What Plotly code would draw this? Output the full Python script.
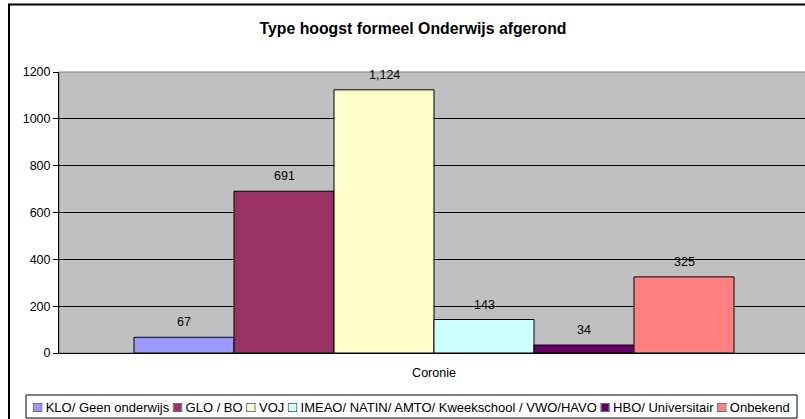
import plotly.graph_objects as go

categories = ["Coronie"]
series_names = ["KLO/ Geen onderwijs", "GLO / BO", "VOJ",
                "IMEAO/ NATIN/ AMTO/ Kweekschool / VWO/HAVO",
                "HBO/ Universitair", "Onbekend"]
series_values = [67, 691, 1124, 143, 34, 325]
series_colors = ["#9999FF", "#993366", "#FFFFCC", "#CCFFFF", "#660066", "#FF8080"]
y_ticks = [0, 200, 400, 600, 800, 1000, 1200]

W, H = 805, 419
L, R, T, B = 59, 0, 72, 66
FULL_PW = 750.0          # full plot width (plot area continues past the right edge)
BARGAP = 0.2
FONT = "Liberation Sans, Arial, sans-serif"

pw = W - L - R
ph = H - T - B
def px_x(x):
    return (x - L) / pw
def px_y(y):
    return (H - B - y) / ph

fig = go.Figure()
for name, val, col in zip(series_names, series_values, series_colors):
    fig.add_trace(go.Bar(
        x=categories, y=[val], name=name,
        marker=dict(color=col, line=dict(color="black", width=1)),
        showlegend=False, hoverinfo="skip",
    ))

# data labels above bars
bar_px = FULL_PW * (1 - BARGAP) / len(series_values)
n = len(series_values)
for i, val in enumerate(series_values):
    fig.add_annotation(
        x=categories[0], y=val, xref="x", yref="y",
        xshift=(i - (n - 1) / 2) * bar_px, yshift=15,
        text=f"{val:,}", showarrow=False, yanchor="middle", xanchor="center",
        font=dict(family=FONT, size=12.5, color="black"),
    )

# legend row (text laid out by the browser)
SQ = "font-size:15px"
black_parts = []
color_parts = []
for name, col in zip(series_names, series_colors):
    color_parts.append(f"<span style='color:{col};{SQ}'>■</span> <span style='color:black'>{name}</span>")
    black_parts.append(f"<span style='color:black;{SQ}'>□</span> <span style='color:rgba(0,0,0,0)'>{name}</span>")
legend_fill = " ".join(color_parts)
legend_outline = " ".join(black_parts)
LEG_CX, LEG_CY = 411.5, 406.5
for txt in (legend_fill, legend_outline):
    fig.add_annotation(
        x=px_x(LEG_CX), y=px_y(LEG_CY), xref="paper", yref="paper",
        text=txt, showarrow=False, xanchor="center", yanchor="middle",
        font=dict(family=FONT, size=13, color="black"),
    )

fig.update_layout(
    width=W, height=H,
    margin=dict(l=L, r=R, t=T, b=B, pad=0, autoexpand=False),
    paper_bgcolor="white", plot_bgcolor="#C0C0C0",
    barmode="group", bargap=BARGAP, bargroupgap=0,
    font=dict(family=FONT, size=12.5, color="black"),
    showlegend=False,
    title=dict(text="<b>Type hoogst formeel Onderwijs afgerond</b>",
               x=413 / W, xref="container", xanchor="center",
               y=1 - 28 / H, yref="container", yanchor="middle",
               font=dict(family=FONT, size=15.8, color="black")),
    xaxis=dict(type="category", range=[-0.5, -0.5 + pw / FULL_PW],
               showline=True, linecolor="black", linewidth=1,
               ticks="", showgrid=False, tickfont=dict(size=12.5),
               ticklabelstandoff=8),
    yaxis=dict(range=[0, 1200], tickvals=y_ticks, showgrid=True,
               gridcolor="black", gridwidth=1, showline=True,
               linecolor="black", linewidth=1, ticks="outside",
               ticklen=5, tickcolor="black", tickfont=dict(size=12.5),
               zeroline=False),
    shapes=[
        dict(type="rect", xref="paper", yref="paper", x0=0, x1=1.01, y0=0, y1=1,
             line=dict(color="#808080", width=1), layer="below"),
        dict(type="rect", xref="paper", yref="paper",
             x0=px_x(26), x1=px_x(797), y0=px_y(418), y1=px_y(395),
             line=dict(color="black", width=1), fillcolor="white", layer="below"),
        dict(type="rect", xref="paper", yref="paper",
             x0=px_x(9), x1=px_x(810), y0=px_y(425), y1=px_y(4.5),
             line=dict(color="black", width=2), fillcolor="rgba(0,0,0,0)"),
    ],
)

fig.write_html("out.html", config={"displayModeBar": False},
               post_script="document.body.style.margin='0';document.body.style.overflow='hidden';")
